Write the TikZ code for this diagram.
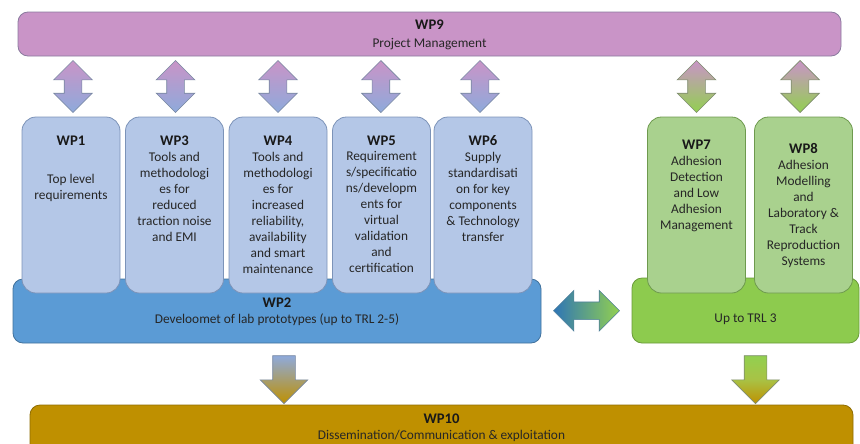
\documentclass[tikz,border=0pt]{standalone}
\usepackage{fontspec}
\setmainfont{Carlito}
\usepackage{xcolor}
\usepackage{tikz}
\usetikzlibrary{calc, shapes.arrows, positioning}

\definecolor{pmfill}{HTML}{C994C7}
\definecolor{pmline}{HTML}{8A7A9E}
\definecolor{wpblue}{HTML}{B4C7E7}
\definecolor{wpblueline}{HTML}{7C93B8}
\definecolor{labblue}{HTML}{5B9BD5}
\definecolor{labline}{HTML}{41719C}
\definecolor{wpgreen}{HTML}{A9D18E}
\definecolor{wpgreenline}{HTML}{6E9A4E}
\definecolor{trlgreen}{HTML}{8DCB4E}
\definecolor{trlline}{HTML}{6A9A3A}
\definecolor{dissgold}{HTML}{BF9000}
\definecolor{dissline}{HTML}{8F6C00}
\definecolor{arrline}{HTML}{7787A0}
\definecolor{garrline}{HTML}{7E8C6E}
\definecolor{pmmid}{HTML}{BFD0EC}
\definecolor{pmlow}{HTML}{8EAADB}
\definecolor{pmgmid}{HTML}{AFC78E}
\definecolor{arrgreen}{HTML}{92D050}
\definecolor{linkline}{HTML}{4F7F9C}
\definecolor{linkblue}{HTML}{2E75B6}
\definecolor{linkmid}{HTML}{BBD6EE}
\definecolor{outblue}{HTML}{8FAADC}
\definecolor{outmid}{HTML}{D9E2F0}
\definecolor{outgmid}{HTML}{A9C245}

\begin{document}
\begin{tikzpicture}[x=0.75pt, y=-0.75pt,
    wpbox/.style={draw=wpblueline, line width=0.6pt, fill=wpblue, rounded corners=10.5pt,
        minimum width=73.5pt, minimum height=132pt, inner sep=0pt},
    adhbox/.style={wpbox, draw=wpgreenline, fill=wpgreen},
    wpbar/.style={line width=0.6pt, rounded corners=7.5pt, inner sep=0pt},
    wptitle/.style={inner sep=0pt, text=black!90, font=\fontsize{11}{12}\selectfont\bfseries},
    wptext/.style={inner sep=0pt, text=black!85, align=center, font=\fontsize{10}{12}\selectfont},
    bartext/.style={wptext, font=\fontsize{10}{12}\selectfont},
    pmarrow/.style={double arrow, shape border rotate=90, minimum height=39pt, minimum width=28.5pt,
        inner sep=6.375pt, double arrow head extend=7.875pt, draw=arrline, line width=0.5pt,
        top color=pmfill, middle color=pmmid, bottom color=pmlow},
    pmgarrow/.style={pmarrow, draw=garrline, middle color=pmgmid, bottom color=arrgreen},
    labarrow/.style={double arrow, minimum height=49.5pt, minimum width=30pt,
        inner sep=6.375pt, double arrow head extend=8.625pt, draw=linkline, line width=0.5pt,
        left color=linkblue, middle color=linkmid, right color=arrgreen},
    outarrow/.style={single arrow, shape border rotate=270, minimum height=36pt, minimum width=35.25pt,
        inner sep=8.25pt, single arrow head extend=9.375pt, draw=arrline, line width=0.5pt,
        top color=outblue, middle color=outmid, bottom color=dissgold}]
    \clip (0,0) rectangle (860,443);

    % WP9 across the top
    \node[wpbar, draw=pmline, fill=pmfill, minimum width=617.25pt, minimum height=33pt] (wp9) at (429.5,34) {};
    \node[wptitle] (wp9t) at ($(wp9.north)+(0,-9.75pt)$) {WP9};
    \node[bartext, below=6.2pt of wp9t] (wp9b) {Project Management};

    % the two lower bars, drawn before the WP boxes that sit on them
    \node[wpbar, draw=labline, fill=labblue, minimum width=396pt, minimum height=48pt] (wp2) at (277,311) {};
    \node[wpbar, draw=trlline, fill=trlgreen, minimum width=170.25pt, minimum height=48.75pt] (trl) at (745.5,310.5) {};

    % WP boxes
    \node[wpbox] (wp1) at (71,205) {};
    \node[wpbox] (wp3) at (174.5,205) {};
    \node[wpbox] (wp4) at (278,205) {};
    \node[wpbox] (wp5) at (381.5,205) {};
    \node[wpbox] (wp6) at (483,205) {};
    \node[adhbox] (wp7) at (696.5,205) {};
    \node[adhbox] (wp8) at (803.5,205) {};

    % box texts
    \node[wptitle] (wp1t) at ($(wp1.north)+(0,-18pt)$) {WP1};
    \node[wptext, below=20.9pt of wp1t] (wp1b) {Top level\\requirements};
    \node[wptitle] (wp3t) at ($(wp3.north)+(0,-18pt)$) {WP3};
    \node[wptext, below=4.4pt of wp3t] (wp3b) {Tools and\\methodologi\\es for\\reduced\\traction noise\\and EMI};
    \node[wptitle] (wp4t) at ($(wp4.north)+(0,-18pt)$) {WP4};
    \node[wptext, below=4.4pt of wp4t] (wp4b) {Tools and\\methodologi\\es for\\increased\\reliability,\\availability\\and smart\\maintenance};
    \node[wptitle] (wp5t) at ($(wp5.north)+(0,-18pt)$) {WP5};
    \node[wptext, below=4.4pt of wp5t] (wp5b) {Requirement\\s/specificatio\\ns/developm\\ents for\\virtual\\validation\\and\\certification};
    \node[wptitle] (wp6t) at ($(wp6.north)+(0,-18pt)$) {WP6};
    \node[wptext, below=4.4pt of wp6t] (wp6b) {Supply\\standardisati\\on for key\\components\\\& Technology\\transfer};
    \node[wptitle] (wp7t) at ($(wp7.north)+(0,-21pt)$) {WP7};
    \node[wptext, below=5.1pt of wp7t] (wp7b) {Adhesion\\Detection\\and Low\\Adhesion\\Management};
    \node[wptitle] (wp8t) at ($(wp8.north)+(0,-24pt)$) {WP8};
    \node[wptext, below=4.4pt of wp8t] (wp8b) {Adhesion\\Modelling\\and\\Laboratory \&\\Track\\Reproduction\\Systems};

    % bar texts
    \node[wptitle] (wp2t) at ($(wp2.north)+(0,-18pt)$) {WP2};
    \node[bartext, below=4.6pt of wp2t] (wp2b) {Develoomet of lab prototypes (up to TRL 2-5)};
    \node[bartext] (trlb) at ($(trl.south)+(0,18pt)$) {Up to TRL 3};

    % WP10 at the bottom, cut by the page edge
    \node[wpbar, draw=dissline, fill=dissgold, minimum width=617.25pt, minimum height=41.25pt] (wp10) at (441.5,432.5) {};
    \node[wptitle] (wp10t) at ($(wp10.north)+(0,-10.5pt)$) {WP10};
    \node[bartext, below=4.6pt of wp10t] (wp10b) {Dissemination/Communication \& exploitation};

    % arrows from WP9 to each box
    \foreach \b/\s in {wp1/1.5, wp3/0.75, wp4/0, wp5/-0.4, wp6/-2.25} {
        \node[pmarrow, xshift=\s pt] (pm-\b) at ($(wp9.south -| \b.north)!.5!(\b.north)$) {};
    }
    \foreach \b/\s in {wp7/0, wp8/-2.6} {
        \node[pmgarrow, xshift=\s pt] (pm-\b) at ($(wp9.south -| \b.north)!.5!(\b.north)$) {};
    }

    % link between the two blocks
    \node[labarrow] (link) at ($(wp2.east)!.5!(trl.west)$) {};

    % arrows down to WP10
    \node[outarrow, xshift=5.25pt] (out-wp2) at ($(wp2.south)!.5!(wp2.south |- wp10.north)$) {};
    \node[outarrow, xshift=7.5pt, draw=garrline, top color=arrgreen, middle color=outgmid] (out-trl) at ($(trl.south)!.5!(trl.south |- wp10.north)$) {};
\end{tikzpicture}
\end{document}
